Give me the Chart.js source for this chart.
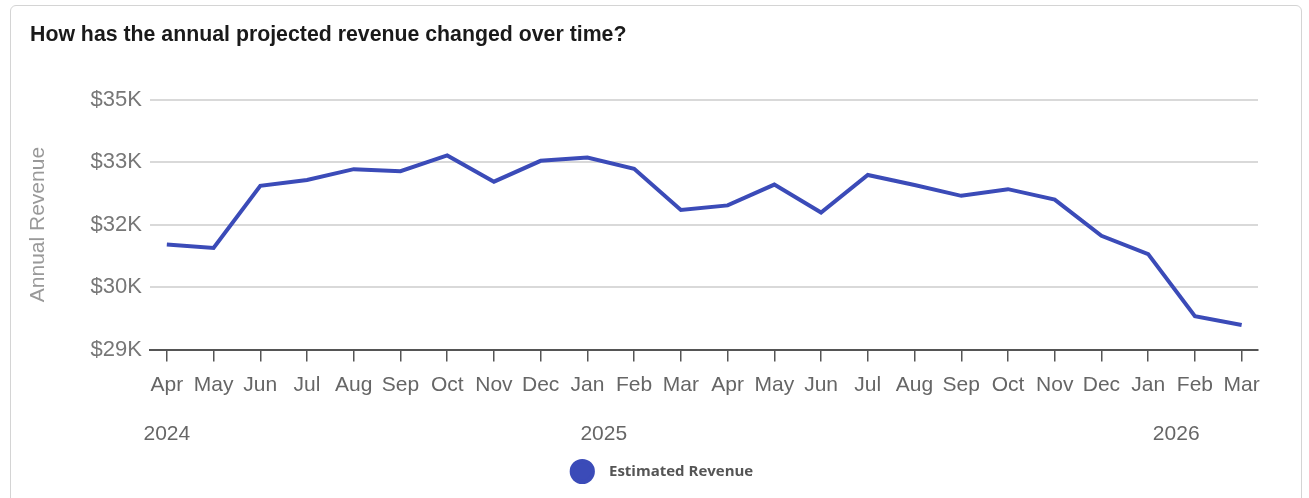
<!DOCTYPE html>
<html>
<head>
<meta charset="utf-8">
<script src="https://cdn.jsdelivr.net/npm/chart.js@4.4.1/dist/chart.umd.min.js"></script>
<style>
html, body { margin: 0; padding: 0; background: #fff; }
.card { position: absolute; left: 10px; top: 5px; width: 1290px; height: 510px; border: 1px solid #d4d4d4; border-radius: 6px; }
.wrap { position: absolute; left: 11px; top: 6px; width: 1290px; height: 492px; }
</style>
</head>
<body>
<div class="card"></div>
<div class="wrap"><canvas id="rev-chart"></canvas></div>
<script>
// Chart data
const months = ['Apr', 'May', 'Jun', 'Jul', 'Aug', 'Sep', 'Oct', 'Nov', 'Dec', 'Jan', 'Feb', 'Mar',
                'Apr', 'May', 'Jun', 'Jul', 'Aug', 'Sep', 'Oct', 'Nov', 'Dec', 'Jan', 'Feb', 'Mar'];
const revenue = [31520, 31440, 32930, 33070, 33330, 33280, 33660, 33030, 33530, 33610, 33340, 32350,
                 32460, 32960, 32290, 33190, 32950, 32690, 32850, 32600, 31730, 31290, 29800, 29590];
const yearLabels = ['2024', '2025', '2026'];
const yTicks = [29000, 30500, 32000, 33500, 35000];

const FONT = 'Liberation Sans, Arial, sans-serif';
const LINE_BLUE = '#3b4bb8';

let revChart = null;

// legend sits a bit right of the card centre in the original
const legendNudge = {
    id: 'legendNudge',
    afterLayout: chart => { chart.legend.left += 40; }
};

document.addEventListener('DOMContentLoaded', () => {
    initChart();
});

function initChart() {
    const ctx = document.getElementById('rev-chart').getContext('2d');
    revChart = new Chart(ctx, {
        type: 'line',
        data: {
            datasets: [{
                label: 'Estimated Revenue',
                data: revenue.map((v, i) => ({ x: i, y: v })),
                borderColor: LINE_BLUE,
                backgroundColor: LINE_BLUE,
                borderWidth: 4,
                pointRadius: 0,
                tension: 0
            }]
        },
        plugins: [legendNudge],
        options: {
            responsive: true,
            maintainAspectRatio: false,
            animation: false,
            layout: { padding: { left: 19, right: 43, top: 16, bottom: 9 } },
            plugins: {
                title: {
                    display: true,
                    text: 'How has the annual projected revenue changed over time?',
                    align: 'start',
                    color: '#1a1a1a',
                    font: { family: FONT, size: 21.3, weight: 'bold' },
                    padding: { top: 0, bottom: 52 }
                },
                legend: {
                    position: 'bottom',
                    labels: {
                        usePointStyle: true,
                        pointStyle: 'circle',
                        color: '#555',
                        padding: 10,
                        font: { family: 'Open Sans', size: 15, weight: 'bold' },
                        // a little extra room between the dot and the text
                        generateLabels: chart => Chart.defaults.plugins.legend.labels.generateLabels(chart)
                            .map(l => ({ ...l, text: '   ' + l.text }))
                    }
                },
                tooltip: { enabled: false }
            },
            scales: {
                x: {
                    type: 'linear',
                    min: -0.36,
                    max: 23.35,
                    afterBuildTicks: axis => { axis.ticks = months.map((_, i) => ({ value: i })); },
                    ticks: {
                        callback: v => months[v],
                        color: '#666',
                        font: { family: FONT, size: 21 },
                        padding: 11,
                        maxRotation: 0,
                        autoSkip: false
                    },
                    grid: { drawOnChartArea: false, drawTicks: true, tickLength: 12, color: '#555', lineWidth: 1.5 },
                    border: { color: '#555', width: 2 }
                },
                year: {
                    type: 'linear',
                    position: 'bottom',
                    min: -0.36,
                    max: 23.35,
                    afterBuildTicks: axis => { axis.ticks = [0, 9.35, 21.6].map(v => ({ value: v })); },
                    afterFit: s => { s.height -= 6; },
                    ticks: {
                        callback: (v, i) => yearLabels[i],
                        color: '#666',
                        font: { family: FONT, size: 21 },
                        padding: 13,
                        maxRotation: 0,
                        autoSkip: false
                    },
                    grid: { display: false, drawTicks: false },
                    border: { display: false }
                },
                y: {
                    min: 29000,
                    max: 35000,
                    afterBuildTicks: axis => { axis.ticks = yTicks.map(v => ({ value: v })); },
                    afterFit: s => { s.width = 120; },
                    ticks: {
                        callback: v => '$' + Math.floor(v / 1000) + 'K',
                        color: '#777',
                        font: { family: FONT, size: 22 },
                        padding: 8
                    },
                    grid: { color: '#d9d9d9', lineWidth: 2, drawTicks: false },
                    border: { display: false },
                    title: {
                        display: true,
                        text: 'Annual Revenue',
                        color: '#999',
                        font: { family: FONT, size: 21 },
                        padding: { top: -4, bottom: 0 }
                    }
                }
            }
        }
    });
}
</script>
</body>
</html>
